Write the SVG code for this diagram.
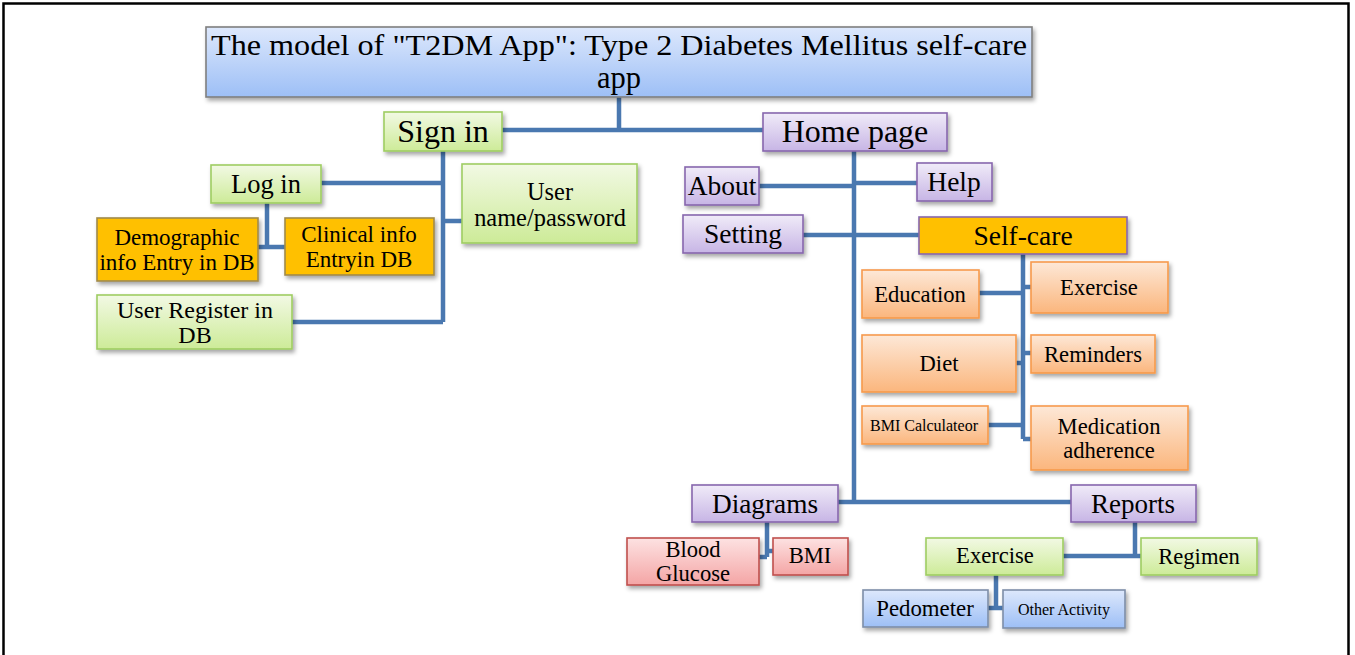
<svg xmlns="http://www.w3.org/2000/svg" width="1355" height="655" viewBox="0 0 1355 655">
<defs>
<linearGradient id="gBlue" x1="0" y1="0" x2="0" y2="1"><stop offset="0" stop-color="#dde8fc"/><stop offset="1" stop-color="#9dbff6"/></linearGradient>
<linearGradient id="gGreen" x1="0" y1="0" x2="0" y2="1"><stop offset="0" stop-color="#f2f9e4"/><stop offset="1" stop-color="#cdeb98"/></linearGradient>
<linearGradient id="gPurple" x1="0" y1="0" x2="0" y2="1"><stop offset="0" stop-color="#f0ebf8"/><stop offset="1" stop-color="#c7b5e5"/></linearGradient>
<linearGradient id="gOrange" x1="0" y1="0" x2="0" y2="1"><stop offset="0" stop-color="#fde8d7"/><stop offset="1" stop-color="#fbb67d"/></linearGradient>
<linearGradient id="gRed" x1="0" y1="0" x2="0" y2="1"><stop offset="0" stop-color="#fde2e2"/><stop offset="1" stop-color="#f4a5a5"/></linearGradient>
<filter id="sh" x="-10%" y="-10%" width="125%" height="140%"><feDropShadow dx="2" dy="3" stdDeviation="2" flood-color="#000" flood-opacity="0.35"/></filter>
</defs>
<style>
.n rect{filter:url(#sh);stroke-width:1.6}
.title rect{fill:url(#gBlue);stroke:#7f7f7f}
.green rect{fill:url(#gGreen);stroke:#9fcd62}
.purple rect{fill:url(#gPurple);stroke:#8767ad}
.orange rect{fill:url(#gOrange);stroke:#f79a4c}
.gold rect{fill:#ffc000;stroke:#a08a4a}
.gold2 rect{fill:#ffc000;stroke:#8767ad}
.red rect{fill:url(#gRed);stroke:#c0504d}
.blue rect{fill:url(#gBlue);stroke:#7d8ea8}
text{font-family:"Liberation Serif","Times New Roman",serif;fill:#000;text-anchor:middle}
.conn path{fill:none;stroke:#4a78b0;stroke-width:4.5}
</style>
<rect width="1355" height="655" fill="#fff"/>
<path d="M3.5,655 V3.5 H1348.5 V655" fill="none" stroke="#000" stroke-width="2.5"/>
<g class="conn">
<path d="M619,97 V130 M502,130 H763"/>
<path d="M443,151 V322 M321,183 H443 M443,221 H462 M292,322 H443"/>
<path d="M267,203 V247 M258,247 H285"/>
<path d="M854,151 V502 M759,186 H854 M854,183 H917 M803,235 H919 M838,502 H1071"/>
<path d="M1023,254 V439 M979,293 H1023 M1023,287 H1031 M1016,363 H1023 M1023,353 H1031 M988,425 H1023 M1023,439 H1031"/>
<path d="M767,522 V557 M759,557 H767 M767,551 H773"/>
<path d="M1135,522 V556 M1063,556 H1141"/>
<path d="M996,575 V608 M988,608 H1003"/>
</g>
<g id="title" class="n title"><rect x="206" y="27" width="826" height="70"/><text x="619" y="55" font-size="29.5" textLength="816" lengthAdjust="spacingAndGlyphs">The model of "T2DM App": Type 2 Diabetes Mellitus self-care</text><text x="619" y="88" font-size="30.5">app</text></g>
<g id="signin" class="n green"><rect x="384" y="112" width="118" height="39"/><text x="443" y="142" font-size="32">Sign in</text></g>
<g id="homepage" class="n purple"><rect x="763" y="113" width="184" height="38"/><text x="855" y="142" font-size="32">Home page</text></g>
<g id="login" class="n green"><rect x="211" y="165" width="110" height="38"/><text x="266" y="193" font-size="26.5">Log in</text></g>
<g id="userpass" class="n green"><rect x="462" y="164" width="175" height="79"/><text x="550" y="200" font-size="24.4">User</text><text x="550" y="226" font-size="24.4">name/password</text></g>
<g id="demographic" class="n gold"><rect x="97" y="218" width="161" height="63"/><text x="177" y="245" font-size="23">Demographic</text><text x="177" y="270" font-size="23">info Entry in DB</text></g>
<g id="clinical" class="n gold"><rect x="285" y="218" width="149" height="57"/><text x="359" y="242" font-size="23">Clinical info</text><text x="359" y="267" font-size="23">Entryin DB</text></g>
<g id="register" class="n green"><rect x="97" y="295" width="195" height="54"/><text x="195" y="318" font-size="24">User Register in</text><text x="195" y="343" font-size="24">DB</text></g>
<g id="about" class="n purple"><rect x="685" y="167" width="74" height="38"/><text x="722" y="195" font-size="27.5">About</text></g>
<g id="help" class="n purple"><rect x="917" y="163" width="75" height="38"/><text x="954" y="191" font-size="27.5">Help</text></g>
<g id="setting" class="n purple"><rect x="683" y="215" width="120" height="38"/><text x="743" y="243" font-size="27.5">Setting</text></g>
<g id="selfcare" class="n gold2"><rect x="919" y="217" width="208" height="37"/><text x="1023" y="245" font-size="27.5">Self-care</text></g>
<g id="education" class="n orange"><rect x="862" y="270" width="117" height="48"/><text x="920" y="302" font-size="22.6">Education</text></g>
<g id="exercise1" class="n orange"><rect x="1031" y="262" width="137" height="51"/><text x="1099" y="295" font-size="22.6">Exercise</text></g>
<g id="diet" class="n orange"><rect x="862" y="335" width="154" height="57"/><text x="939" y="371" font-size="22.6">Diet</text></g>
<g id="reminders" class="n orange"><rect x="1031" y="335" width="124" height="38"/><text x="1093" y="362" font-size="22.6">Reminders</text></g>
<g id="bmicalc" class="n orange"><rect x="862" y="406" width="126" height="38"/><text x="924" y="431" font-size="16">BMI Calculateor</text></g>
<g id="medication" class="n orange"><rect x="1031" y="406" width="157" height="64"/><text x="1109" y="434" font-size="22.6">Medication</text><text x="1109" y="458" font-size="22.6">adherence</text></g>
<g id="diagrams" class="n purple"><rect x="692" y="485" width="146" height="37"/><text x="765" y="513" font-size="27.3">Diagrams</text></g>
<g id="reports" class="n purple"><rect x="1071" y="485" width="125" height="37"/><text x="1133" y="513" font-size="27">Reports</text></g>
<g id="bloodglucose" class="n red"><rect x="627" y="538" width="132" height="47"/><text x="693" y="557" font-size="22.6">Blood</text><text x="693" y="581" font-size="22.6">Glucose</text></g>
<g id="bmi" class="n red"><rect x="773" y="538" width="75" height="37"/><text x="810" y="563" font-size="22.6">BMI</text></g>
<g id="exercise2" class="n green"><rect x="926" y="538" width="137" height="37"/><text x="995" y="563" font-size="22.6">Exercise</text></g>
<g id="regimen" class="n green"><rect x="1141" y="538" width="116" height="37"/><text x="1199" y="564" font-size="22.6">Regimen</text></g>
<g id="pedometer" class="n blue"><rect x="863" y="590" width="125" height="37"/><text x="925" y="616" font-size="22.8">Pedometer</text></g>
<g id="otheractivity" class="n blue"><rect x="1003" y="590" width="122" height="38"/><text x="1064" y="615" font-size="16">Other Activity</text></g>
</svg>
